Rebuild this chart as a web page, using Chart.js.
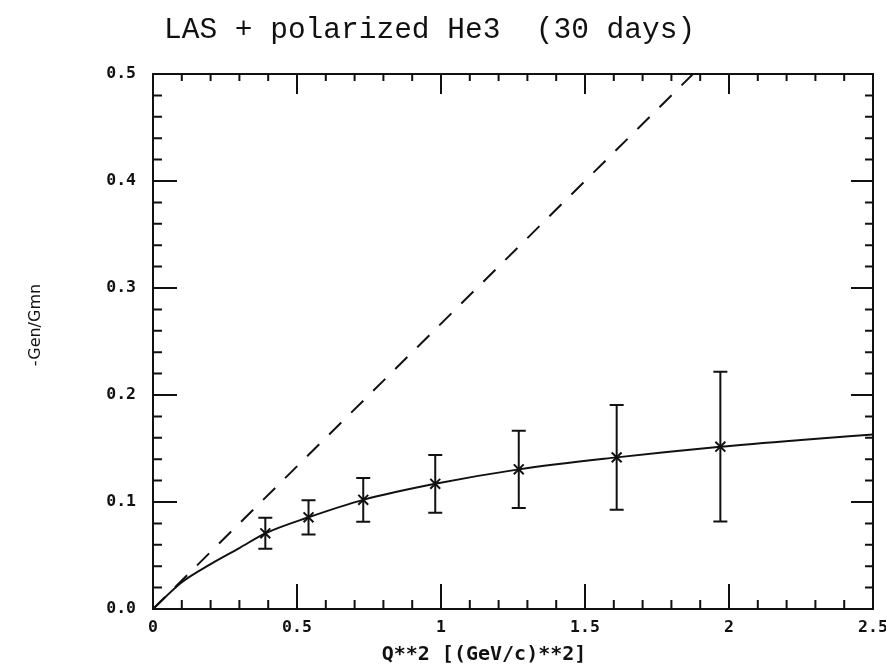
<!DOCTYPE html>
<html>
<head>
<meta charset="utf-8">
<script src="https://cdn.jsdelivr.net/npm/chart.js@4.4.1/dist/chart.umd.min.js"></script>
<style>
  body { margin: 0; background: #fff; }
  #wrap { width: 886px; height: 668px; }
</style>
</head>
<body>
<div id="wrap"><canvas id="chart" width="886" height="668"></canvas></div>
<script>
const q2Points    = [0.39, 0.54, 0.73, 0.98, 1.27, 1.61, 1.97];
const ratioPoints = [0.0707, 0.0857, 0.102, 0.117, 0.1305, 0.1417, 0.1517];
const ratioErrors = [0.0145, 0.016, 0.0205, 0.027, 0.036, 0.049, 0.070];

// solid curve through the points
const curveQ2    = [0, 0.1, 0.2, 0.3, 0.39, 0.54, 0.73, 0.98, 1.27, 1.61, 1.97, 2.25, 2.5];
const curveRatio = [0, 0.025, 0.042, 0.057, 0.0707, 0.0857, 0.102, 0.117, 0.1305, 0.1417, 0.1517, 0.158, 0.163];

// dashed line
const dashQ2    = [0, 1.875];
const dashRatio = [0, 0.5];

const chartTitle = 'LAS + polarized He3  (30 days)';
const xTitle = 'Q**2 [(GeV/c)**2]';
const yTitle = '-Gen/Gmn';

const ink = '#111';

function toXY(xs, ys) {
    return xs.map((v, i) => ({ x: v, y: ys[i] }));
}

// frame, inward ticks, error bars and text
const framePlugin = {
    id: 'frame',
    afterDatasetsDraw(chart) {
        const { ctx, scales: { x, y } } = chart;
        ctx.save();
        ctx.strokeStyle = ink;
        ctx.lineWidth = 2;
        ctx.beginPath();
        q2Points.forEach((q, i) => {
            const px = x.getPixelForValue(q);
            const top = y.getPixelForValue(ratioPoints[i] + ratioErrors[i]);
            const bot = y.getPixelForValue(ratioPoints[i] - ratioErrors[i]);
            ctx.moveTo(px, top); ctx.lineTo(px, bot);
            ctx.moveTo(px - 7, top); ctx.lineTo(px + 7, top);
            ctx.moveTo(px - 7, bot); ctx.lineTo(px + 7, bot);
        });
        ctx.stroke();
        ctx.restore();
    },
    afterDraw(chart) {
        const { ctx, chartArea: a, scales: { x, y } } = chart;
        ctx.save();
        ctx.strokeStyle = ink;
        ctx.lineWidth = 2;
        ctx.strokeRect(a.left, a.top, a.right - a.left, a.bottom - a.top);

        ctx.beginPath();
        for (let i = 1; i < 25; i++) {
            const px = x.getPixelForValue(i / 10);
            const major = i % 5 === 0;
            ctx.moveTo(px, a.bottom); ctx.lineTo(px, a.bottom - (major ? 25 : 9));
            ctx.moveTo(px, a.top); ctx.lineTo(px, a.top + (major ? 20 : 7));
        }
        for (let i = 1; i < 25; i++) {
            const py = y.getPixelForValue(i * 0.02);
            const major = i % 5 === 0;
            ctx.moveTo(a.left, py); ctx.lineTo(a.left + (major ? 24 : 9), py);
            ctx.moveTo(a.right, py); ctx.lineTo(a.right - (major ? 22 : 8), py);
        }
        ctx.stroke();

        ctx.fillStyle = ink;
        ctx.font = '29.5px "Liberation Mono"';
        ctx.textAlign = 'left';
        ctx.textBaseline = 'alphabetic';
        ctx.fillText(chartTitle, 164, 38);

        ctx.font = 'bold 20px "DejaVu Sans Mono"';
        ctx.textAlign = 'center';
        ctx.textBaseline = 'middle';
        ctx.fillText(xTitle, 484, 655);

        ctx.translate(36, 325);
        ctx.rotate(-Math.PI / 2);
        ctx.font = '16px "DejaVu Sans"';
        ctx.fillText(yTitle, 0, 0);
        ctx.restore();
    }
};

const tickFont = { family: 'DejaVu Sans Mono', size: 16.5, weight: 'bold' };

new Chart(document.getElementById('chart'), {
    type: 'scatter',
    data: {
        datasets: [
            {
                data: toXY(q2Points, ratioPoints),
                showLine: false,
                pointStyle: 'crossRot',
                pointRadius: 7,
                borderWidth: 2,
                borderColor: ink
            },
            {
                data: toXY(curveQ2, curveRatio),
                showLine: true,
                pointRadius: 0,
                borderWidth: 2,
                borderColor: ink,
                cubicInterpolationMode: 'monotone'
            },
            {
                data: toXY(dashQ2, dashRatio),
                showLine: true,
                pointRadius: 0,
                borderWidth: 2,
                borderColor: ink,
                borderDash: [17, 14]
            }
        ]
    },
    options: {
        responsive: false,
        animation: false,
        layout: { padding: { top: 74, right: 13, left: 0, bottom: 0 } },
        plugins: {
            legend: { display: false },
            tooltip: { enabled: false },
            title: { display: false }
        },
        scales: {
            x: {
                type: 'linear',
                min: 0,
                max: 2.5,
                grid: { display: false },
                border: { display: false },
                ticks: {
                    stepSize: 0.5,
                    padding: 1,
                    color: ink,
                    font: tickFont,
                    maxRotation: 0,
                    callback: v => String(v)
                },
                afterFit(scale) {
                    scale.height = 59;
                    scale.paddingLeft = 0;
                    scale.paddingRight = 0;
                }
            },
            y: {
                type: 'linear',
                min: 0,
                max: 0.5,
                grid: { display: false },
                border: { display: false },
                ticks: {
                    stepSize: 0.1,
                    padding: 9,
                    color: ink,
                    font: tickFont,
                    callback: v => v.toFixed(1)
                },
                afterFit(scale) {
                    scale.width = 153;
                    scale.paddingTop = 0;
                    scale.paddingBottom = 0;
                }
            }
        }
    },
    plugins: [framePlugin]
});
</script>
</body>
</html>
